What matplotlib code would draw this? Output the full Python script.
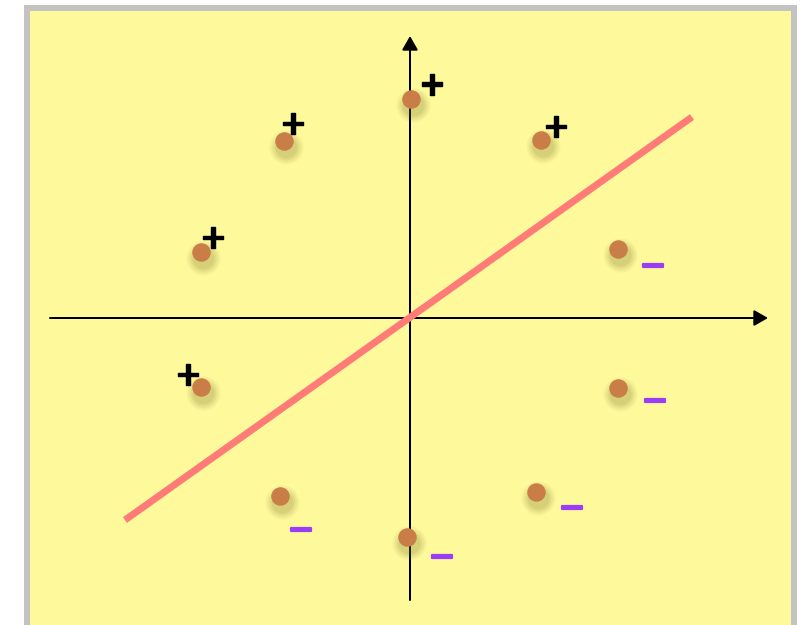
import matplotlib
matplotlib.use("Agg")
import matplotlib.pyplot as plt
import matplotlib.patheffects as pe
from matplotlib.patches import Rectangle

# ---- data (1 unit = 20 px, origin at axes crossing) ----
pos_x = [0.05, -6.3, 6.55, -10.45, -10.45]
pos_y = [10.95, 8.85, 8.9, 3.3, -3.45]
neg_x = [10.4, 10.4, 6.3, -6.5, -0.15]
neg_y = [3.45, -3.5, -8.7, -8.9, -10.95]
line_x = [-14.25, 14.1]
line_y = [-10.1, 10.05]
pos_label = "+"
neg_label = "\u2212"

# label offsets in pixels (dx right, dy down)
pos_off = [(21, -17.5), (9, -20), (15, -16), (12, -17), (-13, -15)]
neg_off = [(35, 14), (37, 10), (36, 13), (21, 31), (35, 17)]

W, H = 800, 625
fig = plt.figure(figsize=(W / 100, H / 100), dpi=100, facecolor="white")
ax = fig.add_axes([0, 0, 1, 1])
ax.set_xlim(-20.5, 19.5)
ax.set_ylim(-15.35, 15.9)
ax.axis("off")
ax.patch.set_alpha(0)

# yellow panel with grey border
bg = Rectangle((27 / W, -0.1), (794 - 27) / W, 1 - 8 / H + 0.1,
               transform=fig.transFigure, facecolor="#FEF99B",
               edgecolor="#C3C3C3", linewidth=6 * 0.72, zorder=0,
               clip_on=False)
ax.add_patch(bg)

px = 0.72  # points per pixel at 100 dpi

# coordinate axes with arrows
arrow_kw = dict(arrowstyle="-|>,head_length=0.42,head_width=0.24",
                color="black", lw=2 * px, mutation_scale=20,
                shrinkA=0, shrinkB=0)
ax.annotate("", xy=(17.9, 0), xytext=(-18.0, 0), arrowprops=arrow_kw, zorder=2)
ax.annotate("", xy=(0, 14.1), xytext=(0, -14.1), arrowprops=arrow_kw, zorder=2)

# separating line
ax.plot(line_x, line_y, color="#FF7B78", lw=7 * px,
        solid_capstyle="butt", zorder=3)

# points with soft shadow
all_x = pos_x + neg_x
all_y = pos_y + neg_y
sx = [v + 0.1 for v in all_x]
sy = [v - 0.3 for v in all_y]
for s, a in [(34, 0.05), (30, 0.07), (26, 0.08), (22, 0.10)]:
    ax.plot(sx, sy, "o", ms=s * px, color="#6f6c25", alpha=a,
            mec="none", zorder=4)
ax.plot(all_x, all_y, "o", ms=18.5 * px, color="#C97E48", mec="none", zorder=5)

# class labels
for (x, y), (dx, dy) in zip(zip(pos_x, pos_y), pos_off):
    ax.annotate(pos_label, xy=(x, y), xytext=(dx * px, -dy * px),
                textcoords="offset points", ha="center", va="center_baseline",
                fontsize=24, fontweight="bold", color="black", zorder=6,
                path_effects=[pe.withStroke(linewidth=1.0, foreground="black")])
for (x, y), (dx, dy) in zip(zip(neg_x, neg_y), neg_off):
    ax.annotate(neg_label, xy=(x, y), xytext=(dx * px, -dy * px),
                textcoords="offset points", ha="center", va="center_baseline",
                fontsize=24, fontweight="bold", color="#9B3CF6", zorder=6,
                path_effects=[pe.withStroke(linewidth=1.6, foreground="#9B3CF6")])

fig.savefig("out.png", dpi=100, facecolor="white")
